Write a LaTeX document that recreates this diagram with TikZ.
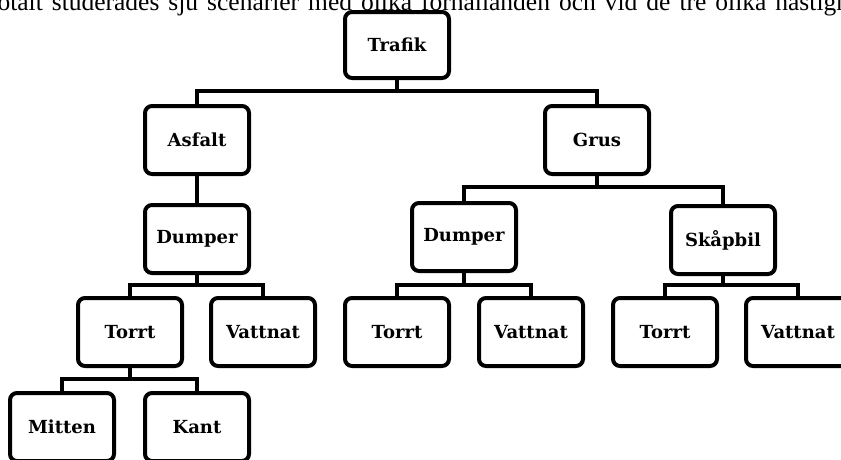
\documentclass[tikz,border=0pt]{standalone}
\usepackage{fontspec}
\setmainfont{DejaVu Serif}
\newfontfamily\captionfont{Liberation Serif}
\begin{document}
\begin{tikzpicture}[x=1pt,y=1pt,
  box/.style={draw, line width=4pt, rounded corners=7pt, minimum width=104pt,
    minimum height=68pt, inner sep=0pt, fill=white,
    font=\bfseries\fontsize{18}{20}\selectfont},
  link/.style={line width=4pt, line join=miter}]
\useasboundingbox (0,0) rectangle (841,-459);
\clip (0,0) rectangle (841,-459);
\node[anchor=base west, inner sep=0pt, font=\captionfont\fontsize{25.5}{30}\selectfont] (cap) at (-16.5,-10.5)
  {\spaceskip=9pt Totalt studerades sju scenarier med olika förhållanden och vid de tre olika hastigheterna};
% nodes
\node[box, minimum height=66pt] (trafik) at (397,-45) {Trafik};
\node[box] (asfalt) at (197,-140) {Asfalt};
\node[box] (grus) at (597,-140) {Grus};
\node[box] (dumpA) at (197,-239) {Dumper};
\node[box] (dumpG) at (464,-237) {Dumper};
\node[box] (skap) at (723,-240) {Skåpbil};
\node[box] (torrA) at (130,-332) {Torrt};
\node[box] (vatA) at (263,-332) {Vattnat};
\node[box] (torrG) at (397,-332) {Torrt};
\node[box] (vatG) at (531,-332) {Vattnat};
\node[box] (torrS) at (665,-332) {Torrt};
\node[box] (vatS) at (798,-332) {Vattnat};
\node[box] (mitten) at (62,-427) {Mitten};
\node[box] (kant) at (197,-427) {Kant};
% buses
\coordinate (b1) at (397,-91);
\coordinate (b2) at (597,-187);
\coordinate (b3) at (197,-285);
\coordinate (b4) at (464,-285);
\coordinate (b5) at (723,-285);
\coordinate (b6) at (130,-379);
% connectors
\draw[link] (trafik.south) -- (trafik.south |- b1);
\draw[link] (asfalt.north) -- (asfalt.north |- b1) -- (grus.north |- b1) -- (grus.north);
\draw[link] (asfalt.south) -- (dumpA.north);
\draw[link] (grus.south) -- (grus.south |- b2);
\draw[link] (dumpG.north) -- (dumpG.north |- b2) -- (skap.north |- b2) -- (skap.north);
\draw[link] (dumpA.south) -- (dumpA.south |- b3);
\draw[link] (torrA.north) -- (torrA.north |- b3) -- (vatA.north |- b3) -- (vatA.north);
\draw[link] (dumpG.south) -- (dumpG.south |- b4);
\draw[link] (torrG.north) -- (torrG.north |- b4) -- (vatG.north |- b4) -- (vatG.north);
\draw[link] (skap.south) -- (skap.south |- b5);
\draw[link] (torrS.north) -- (torrS.north |- b5) -- (vatS.north |- b5) -- (vatS.north);
\draw[link] (torrA.south) -- (torrA.south |- b6);
\draw[link] (mitten.north) -- (mitten.north |- b6) -- (kant.north |- b6) -- (kant.north);
\end{tikzpicture}
\end{document}
